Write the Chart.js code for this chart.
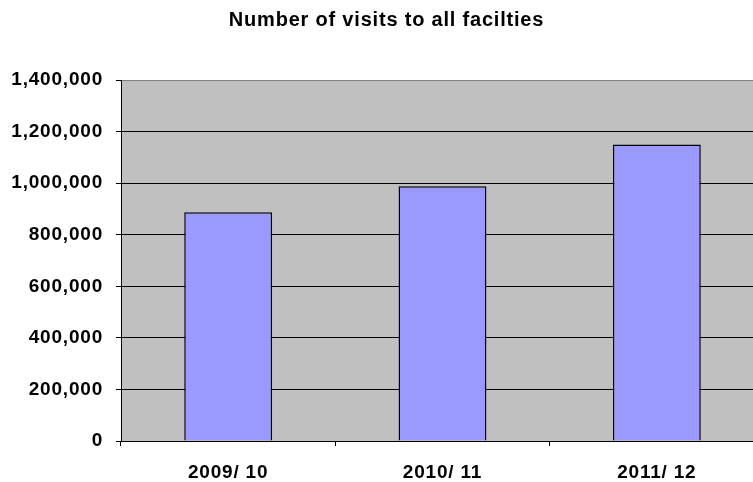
<!DOCTYPE html>
<html>
<head>
<meta charset="utf-8">
<script src="https://cdn.jsdelivr.net/npm/chart.js@4/dist/chart.umd.min.js"></script>
<style>
  html, body { margin: 0; padding: 0; background: #fff; overflow: hidden; }
  #wrap { position: relative; width: 764px; height: 482px; }
</style>
</head>
<body>
<div id="wrap"><canvas id="c"></canvas></div>
<script>
// Financial years and total visits across all facilities
const years = ['2009/ 10', '2010/ 11', '2011/ 12'];
const visits = [887000, 988000, 1150000];
const yTicks = [0, 200000, 400000, 600000, 800000, 1000000, 1200000, 1400000];

const FONT = "'Liberation Sans', Arial, sans-serif";

// grey plot background and spaced-out lettering
const plotArea = {
  id: 'plotArea',
  beforeDraw(chart) {
    const { ctx, chartArea: a } = chart;
    ctx.save();
    ctx.fillStyle = '#C0C0C0';
    ctx.fillRect(a.left, a.top, a.right - a.left, a.bottom - a.top);
    ctx.restore();
    ctx.letterSpacing = '0.8px';
  },
  afterDraw(chart) {
    chart.ctx.letterSpacing = '0px';
  }
};

new Chart(document.getElementById('c'), {
  type: 'bar',
  data: {
    labels: years,
    datasets: [{
      data: visits,
      backgroundColor: '#9999FF',
      borderColor: '#000000',
      borderWidth: 1.5,
      barPercentage: 0.41,
      categoryPercentage: 1
    }]
  },
  options: {
    responsive: true,
    maintainAspectRatio: false,
    animation: false,
    layout: { padding: { left: 9, right: 0, top: 0, bottom: 0 } },
    plugins: {
      legend: { display: false },
      tooltip: { enabled: false },
      title: {
        display: true,
        text: 'Number of visits to all facilties',
        color: '#000',
        font: { family: FONT, size: 20, weight: 'bold' },
        padding: { top: 8, bottom: 48 }
      }
    },
    scales: {
      x: {
        afterFit(s) { s.height = 41; },
        grid: {
          display: true,
          drawOnChartArea: false,
          drawTicks: true,
          tickLength: 5,
          color: '#000',
          offset: true
        },
        border: { display: true, color: '#000', width: 1 },
        ticks: {
          color: '#000',
          padding: 15,
          font: { family: FONT, size: 19, weight: 'bold' }
        }
      },
      y: {
        min: 0,
        max: 1400000,
        afterFit(s) { s.width = 112; },
        afterBuildTicks(s) { s.ticks = yTicks.map(v => ({ value: v })); },
        grid: {
          color: ctx => (ctx.tick && ctx.tick.value === 1400000) ? '#808080' : '#000',
          tickColor: '#000',
          tickLength: 5,
          lineWidth: 1
        },
        border: { display: true, color: '#000', width: 1 },
        ticks: {
          color: '#000',
          padding: 13,
          font: { family: FONT, size: 19, weight: 'bold' },
          callback: v => Number(v).toLocaleString('en-US')
        }
      }
    }
  },
  plugins: [plotArea]
});
</script>
</body>
</html>
